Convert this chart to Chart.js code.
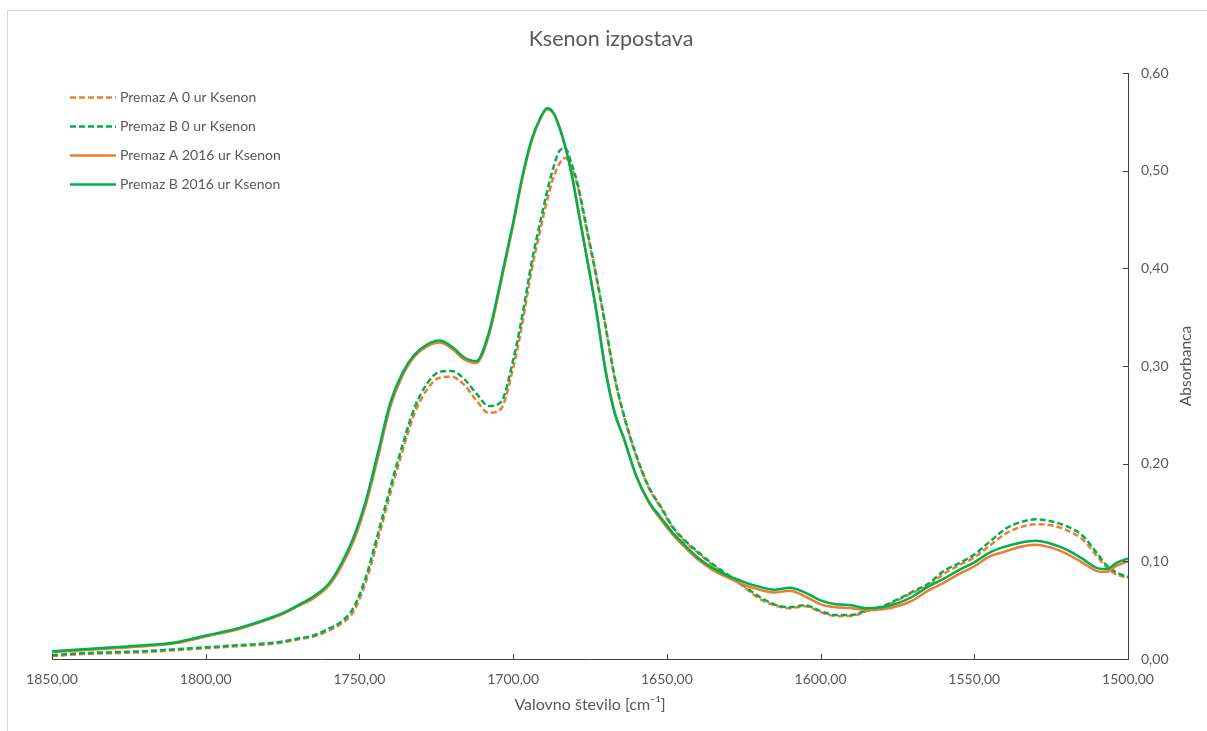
<!DOCTYPE html>
<html>
<head>
<meta charset="utf-8">
<title>Ksenon izpostava</title>
<script src="https://cdn.jsdelivr.net/npm/chart.js@4"></script>
<style>
  html, body { margin: 0; padding: 0; background: #ffffff; }
  canvas { display: block; }
</style>
</head>
<body>
<canvas id="chart" width="1207" height="731"></canvas>
<script>
// Wavenumbers (cm-1) at which the spectra are sampled
const wavenumbers = [
  1850, 1840, 1830, 1820, 1810, 1800, 1790, 1780, 1775, 1770, 1765, 1760,
  1756, 1752, 1748, 1744, 1740, 1736, 1732, 1728, 1724, 1720, 1716, 1712,
  1708, 1704, 1700, 1697, 1694, 1691, 1689, 1687, 1685, 1683, 1681, 1679,
  1676, 1673, 1670, 1667, 1664, 1660, 1656, 1652, 1648, 1644, 1640, 1635,
  1630, 1625, 1620, 1615, 1610, 1605, 1600, 1595, 1590, 1585, 1580, 1575,
  1570, 1565, 1560, 1555, 1550, 1545, 1540, 1535, 1530, 1525, 1520, 1515,
  1510, 1507, 1504, 1500
];

// Absorbance, coating A, 0 h xenon exposure
const premazA0 = [
  0.003, 0.005, 0.006, 0.007, 0.009, 0.011, 0.013, 0.015, 0.017, 0.020, 0.023, 0.029,
  0.036, 0.048, 0.078, 0.122, 0.169, 0.213, 0.252, 0.276, 0.288, 0.289, 0.281, 0.265,
  0.252, 0.256, 0.298, 0.344, 0.398, 0.442, 0.469, 0.492, 0.507, 0.513, 0.503, 0.484,
  0.438, 0.392, 0.341, 0.288, 0.249, 0.208, 0.176, 0.155, 0.134, 0.120, 0.109, 0.096,
  0.085, 0.074, 0.062, 0.055, 0.052, 0.054, 0.048, 0.044, 0.044, 0.049, 0.053, 0.060,
  0.068, 0.075, 0.087, 0.096, 0.104, 0.116, 0.128, 0.135, 0.138, 0.137, 0.132, 0.123,
  0.105, 0.094, 0.087, 0.083
];

// Absorbance, coating B, 0 h xenon exposure
const premazB0 = [
  0.004, 0.006, 0.007, 0.008, 0.010, 0.012, 0.014, 0.016, 0.018, 0.021, 0.024, 0.031,
  0.038, 0.052, 0.083, 0.128, 0.175, 0.219, 0.258, 0.282, 0.294, 0.295, 0.287, 0.272,
  0.259, 0.263, 0.306, 0.352, 0.406, 0.450, 0.478, 0.502, 0.520, 0.523, 0.507, 0.486,
  0.440, 0.393, 0.342, 0.289, 0.250, 0.209, 0.177, 0.156, 0.135, 0.121, 0.110, 0.097,
  0.086, 0.075, 0.064, 0.056, 0.053, 0.055, 0.049, 0.045, 0.045, 0.050, 0.054, 0.061,
  0.069, 0.077, 0.090, 0.098, 0.107, 0.120, 0.133, 0.140, 0.143, 0.141, 0.136, 0.127,
  0.108, 0.096, 0.089, 0.084
];

// Absorbance, coating A, 2016 h xenon exposure
const premazA2016 = [
  0.007, 0.009, 0.011, 0.013, 0.016, 0.023, 0.030, 0.040, 0.046, 0.054, 0.062, 0.075,
  0.094, 0.120, 0.157, 0.206, 0.258, 0.290, 0.310, 0.320, 0.324, 0.318, 0.307, 0.303,
  0.330, 0.385, 0.444, 0.492, 0.530, 0.554, 0.563, 0.559, 0.545, 0.524, 0.497, 0.463,
  0.411, 0.358, 0.297, 0.253, 0.226, 0.187, 0.161, 0.143, 0.127, 0.114, 0.102, 0.091,
  0.083, 0.076, 0.071, 0.068, 0.070, 0.064, 0.056, 0.053, 0.052, 0.050, 0.051, 0.054,
  0.060, 0.070, 0.078, 0.087, 0.095, 0.105, 0.110, 0.115, 0.117, 0.114, 0.108, 0.099,
  0.090, 0.089, 0.095, 0.100
];

// Absorbance, coating B, 2016 h xenon exposure
const premazB2016 = [
  0.008, 0.010, 0.012, 0.014, 0.017, 0.024, 0.031, 0.041, 0.047, 0.055, 0.064, 0.077,
  0.097, 0.124, 0.161, 0.211, 0.262, 0.293, 0.312, 0.322, 0.326, 0.320, 0.309, 0.305,
  0.333, 0.388, 0.447, 0.494, 0.532, 0.555, 0.564, 0.560, 0.545, 0.524, 0.497, 0.462,
  0.410, 0.357, 0.296, 0.252, 0.226, 0.188, 0.162, 0.145, 0.129, 0.116, 0.104, 0.093,
  0.085, 0.079, 0.074, 0.071, 0.073, 0.068, 0.060, 0.056, 0.055, 0.052, 0.053, 0.057,
  0.064, 0.074, 0.082, 0.091, 0.099, 0.109, 0.115, 0.119, 0.121, 0.118, 0.112, 0.103,
  0.093, 0.092, 0.098, 0.103
];

const seriesLabels = [
  'Premaz A 0 ur Ksenon',
  'Premaz B 0 ur Ksenon',
  'Premaz A 2016 ur Ksenon',
  'Premaz B 2016 ur Ksenon'
];

const xTickValues = [1850, 1800, 1750, 1700, 1650, 1600, 1550, 1500];
const yTickValues = [0, 0.1, 0.2, 0.3, 0.4, 0.5, 0.6];

const chartTitle = 'Ksenon izpostava';
const xAxisTitle = 'Valovno število [cm⁻¹]';
const yAxisTitle = 'Absorbanca';

const FONT = 'Lato, "Open Sans", sans-serif';
const TEXT_COLOR = '#595959';
const AXIS_COLOR = '#404040';
const ORANGE = '#ED7D31';
const GREEN = '#00B050';
const DASH = [6, 3];

const toPoints = vals => wavenumbers.map((w, i) => ({ x: w, y: vals[i] }));
const decimalComma = v => Number(v).toFixed(2).replace('.', ',');

const lineStyle = {
  pointRadius: 0,
  pointHoverRadius: 0,
  borderWidth: 2.5,
  fill: false,
  cubicInterpolationMode: 'monotone',
  borderCapStyle: 'butt',
  borderJoinStyle: 'round'
};

// Frame, title, axis titles, inward tick marks and an in-plot legend
const decorations = {
  id: 'decorations',
  beforeDraw(chart) {
    const ctx = chart.ctx;
    ctx.save();
    ctx.fillStyle = '#ffffff';
    ctx.fillRect(0, 0, chart.width, chart.height);
    ctx.strokeStyle = '#d9d9d9';
    ctx.lineWidth = 1;
    ctx.strokeRect(7.5, 10.5, chart.width + 20, chart.height + 20);
    ctx.restore();
  },
  afterDraw(chart) {
    const ctx = chart.ctx;
    const area = chart.chartArea;
    const xs = chart.scales.x;
    const ys = chart.scales.y;
    ctx.save();

    // inward tick marks
    ctx.strokeStyle = AXIS_COLOR;
    ctx.lineWidth = 1;
    ctx.beginPath();
    xTickValues.forEach(v => {
      const px = Math.round(xs.getPixelForValue(v)) + 0.5;
      ctx.moveTo(px, area.bottom);
      ctx.lineTo(px, area.bottom - 5);
    });
    yTickValues.forEach(v => {
      const py = Math.round(ys.getPixelForValue(v)) + 0.5;
      ctx.moveTo(area.right, py);
      ctx.lineTo(area.right - 5, py);
    });
    ctx.stroke();

    // chart title
    ctx.fillStyle = TEXT_COLOR;
    ctx.textAlign = 'center';
    ctx.textBaseline = 'middle';
    ctx.font = `21.5px ${FONT}`;
    ctx.fillText(chartTitle, 611, 39);

    // axis titles
    ctx.font = `16px ${FONT}`;
    ctx.fillText(xAxisTitle, (area.left + area.right) / 2, 705);
    ctx.save();
    ctx.translate(1186, (area.top + area.bottom) / 2);
    ctx.rotate(-Math.PI / 2);
    ctx.font = `15.5px ${FONT}`;
    ctx.fillText(yAxisTitle, 0, 0);
    ctx.restore();

    // legend
    ctx.font = `14px ${FONT}`;
    ctx.textAlign = 'left';
    chart.data.datasets.forEach((ds, i) => {
      const y = 97.5 + i * 29;
      ctx.beginPath();
      ctx.setLineDash(ds.borderDash || []);
      ctx.strokeStyle = ds.borderColor;
      ctx.lineWidth = ds.borderWidth || 2.5;
      ctx.moveTo(70, y);
      ctx.lineTo(116, y);
      ctx.stroke();
      ctx.setLineDash([]);
      ctx.fillStyle = TEXT_COLOR;
      ctx.fillText(ds.label, 120, y);
    });
    ctx.restore();
  }
};

new Chart(document.getElementById('chart'), {
  type: 'line',
  data: {
    datasets: [
      { ...lineStyle, label: seriesLabels[0], data: toPoints(premazA0), borderColor: ORANGE, borderDash: DASH, order: 4 },
      { ...lineStyle, label: seriesLabels[1], data: toPoints(premazB0), borderColor: GREEN, borderDash: DASH, order: 3 },
      { ...lineStyle, label: seriesLabels[2], data: toPoints(premazA2016), borderColor: ORANGE, order: 2 },
      { ...lineStyle, label: seriesLabels[3], data: toPoints(premazB2016), borderColor: GREEN, order: 1 }
    ]
  },
  options: {
    responsive: false,
    animation: false,
    events: [],
    layout: { padding: { left: 52, top: 73, right: 0, bottom: 0 } },
    plugins: {
      legend: { display: false },
      title: { display: false },
      tooltip: { enabled: false }
    },
    scales: {
      x: {
        type: 'linear',
        position: 'bottom',
        reverse: true,
        min: 1500,
        max: 1850,
        afterBuildTicks: s => { s.ticks = xTickValues.map(v => ({ value: v })); },
        afterFit: s => { s.height = 72; },
        grid: { display: false, drawTicks: false },
        border: { display: true, color: AXIS_COLOR, width: 1 },
        ticks: {
          color: TEXT_COLOR,
          font: { family: FONT, size: 14 },
          padding: 12,
          maxRotation: 0,
          autoSkip: false,
          callback: v => decimalComma(v)
        }
      },
      y: {
        type: 'linear',
        position: 'right',
        min: 0,
        max: 0.6,
        afterBuildTicks: s => { s.ticks = yTickValues.map(v => ({ value: v })); },
        afterFit: s => { s.width = 79; },
        grid: { display: false, drawTicks: false },
        border: { display: true, color: AXIS_COLOR, width: 1 },
        ticks: {
          color: TEXT_COLOR,
          font: { family: FONT, size: 14 },
          padding: 13,
          autoSkip: false,
          callback: v => decimalComma(v)
        }
      }
    }
  },
  plugins: [decorations]
});
</script>
</body>
</html>
